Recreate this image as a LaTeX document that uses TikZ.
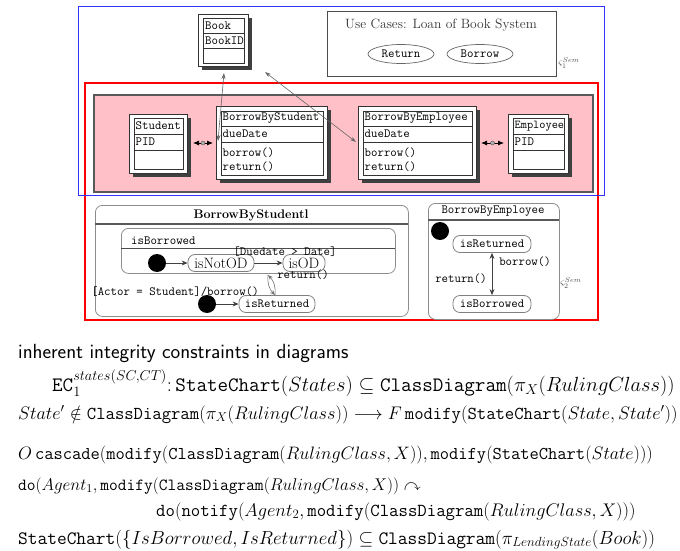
\RequirePackage{fix-cm}
\documentclass[tikz,border=0pt]{standalone}
\usepackage{amssymb}
\usetikzlibrary{arrows.meta,shadows,shapes.geometric}

\definecolor{pinkfill}{RGB}{255,192,200}
\definecolor{frameblue}{RGB}{50,50,255}

\newcommand{\ttsz}[1]{\fontsize{#1}{#1}\selectfont\ttfamily}
\newcommand{\fsz}[1]{\fontsize{#1}{#1}\selectfont}

\begin{document}
\begin{tikzpicture}[x=1pt,y=-1pt,
  clsframe/.style={draw=black!80, line width=0.8pt, fill=white, inner sep=0pt,
    anchor=north west,
    drop shadow={shadow xshift=4pt,shadow yshift=-4pt,fill=black!75,opacity=1}},
  clsline/.style={draw=black!80, line width=0.7pt},
  clstext/.style={anchor=west, inner sep=0pt, font=\ttsz{12.5}},
  pinkbox/.style={draw=black!65, line width=1.5pt, fill=pinkfill, anchor=north west, inner sep=0pt},
  ucframe/.style={draw=black!70, line width=0.9pt, anchor=north west, inner sep=0pt},
  ucase/.style={ellipse, draw=black!60, line width=0.7pt, minimum width=66pt, minimum height=19pt,
    inner sep=0pt, font=\ttsz{12.5}},
  chart/.style={draw=black!45, line width=0.8pt, rounded corners=7pt, anchor=north west, inner sep=0pt},
  stnode/.style={draw=black!50, line width=0.8pt, rounded corners=7pt, minimum height=17pt,
    fill=white, inner sep=1pt},
  initdot/.style={circle, fill=black, minimum size=18pt, inner sep=0pt},
  trans/.style={draw=black!75, line width=0.8pt, -{Stealth[length=6pt,width=5pt]}},
  assoc/.style={draw=black!60, line width=0.6pt,
    {Stealth[length=6pt,width=4pt]}-{Stealth[length=6pt,width=4pt]}},
  agg/.style={draw=black, line width=0.8pt,
    {Latex[length=6pt,width=5pt]}-{Latex[length=6pt,width=5pt]}},
  sttext/.style={inner sep=0pt, font=\ttsz{12.5}},
  formula/.style={anchor=base west, inner sep=0pt}
]
\useasboundingbox (0,0) rectangle (680,551);

% ---------- package of lending classes ----------
\draw[red, line width=1.5pt] (85,83) rectangle (598,320);
\node[pinkbox, minimum width=499pt, minimum height=97pt] (pkg) at (93,94) {};
\draw[frameblue, line width=1pt] (78,7) rectangle (604,195);

% Book
\node[clsframe, minimum width=50pt, minimum height=52pt] (book) at (198,14) {};
\draw[clsline] (203,18) rectangle (244,63) (203,33) -- (244,33) (203,48) -- (244,48);
\node[clstext] (bookname) at (205,25.5) {Book};
\node[clstext] (bookid) at (205,40.5) {BookID};

% Student
\node[clsframe, minimum width=58pt, minimum height=59pt] (student) at (129,114) {};
\draw[clsline] (134,118) rectangle (183,169) (134,134) -- (183,134) (134,150) -- (183,150);
\node[clstext] (stname) at (135.5,126) {Student};
\node[clstext] (stpid) at (135.5,142) {PID};

% BorrowByStudent
\node[clsframe, minimum width=111pt, minimum height=73pt] (bbs) at (216,106) {};
\draw[clsline] (221,111) rectangle (323,175) (221,126) -- (323,126) (221,142) -- (323,142);
\node[clstext] (bbsname) at (222.5,118.5) {BorrowByStudent};
\node[clstext] (bbsdue) at (222.5,134) {dueDate};
\node[clstext] (bbsbor) at (222.5,153) {borrow()};
\node[clstext] (bbsret) at (222.5,167) {return()};

% BorrowByEmployee
\node[clsframe, minimum width=118pt, minimum height=73pt] (bbe) at (358,106) {};
\draw[clsline] (363,111) rectangle (472,175) (363,126) -- (472,126) (363,142) -- (472,142);
\node[clstext] (bbename) at (364.5,118.5) {BorrowByEmployee};
\node[clstext] (bbedue) at (364.5,134) {dueDate};
\node[clstext] (bbebor) at (364.5,153) {borrow()};
\node[clstext] (bberet) at (364.5,167) {return()};

% Employee
\node[clsframe, minimum width=60pt, minimum height=59pt] (emp) at (508,114) {};
\draw[clsline] (513,118) rectangle (564,169) (513,134) -- (564,134) (513,150) -- (564,150);
\node[clstext, font=\ttsz{12}] (empname) at (514.5,126) {Employee};
\node[clstext] (emppid) at (514.5,142) {PID};

% associations to Book
\coordinate (bookfootA) at (224,73);
\coordinate (bbsdock) at (218,141);
\coordinate (bookfootB) at (265,72);
\coordinate (bbedock) at (356,142);
\draw[assoc] (bookfootA) -- (bbsdock);
\draw[assoc] (bookfootB) -- (bbedock);

% aggregations between actors and loans
\coordinate (stdock) at (193,143);
\coordinate (bbsleft) at (213,143);
\coordinate (bberight) at (481,143);
\coordinate (empdock) at (504,143);
\draw[agg] (stdock) -- (bbsleft);
\draw[agg] (bberight) -- (empdock);
\node[circle, draw=black!70, fill=black!30, minimum size=4pt, inner sep=0pt] (aggmid1) at (203,143) {};
\node[circle, draw=black!70, fill=black!30, minimum size=4pt, inner sep=0pt] (aggmid2) at (492.5,143) {};

% ---------- use cases ----------
\node[ucframe, minimum width=229pt, minimum height=65pt] (uc) at (327,11) {};
\node[inner sep=0pt, text=black!80, font=\fsz{13.5}] (uctitle) at (441,25) {Use Cases: Loan of Book System};
\node[ucase] (ucret) at (401,54) {Return};
\node[ucase] (ucbor) at (480,54) {Borrow};
\node[inner sep=0pt, text=black!70, font=\fsz{10}] (sem1) at (569,63) {$\varsigma_1^{Sem}$};

% ---------- state chart: BorrowByStudentl ----------
\node[chart, minimum width=313pt, minimum height=111pt] (sc1) at (95,205) {};
\node[inner sep=0pt, font=\fsz{12.5}\bfseries] (sc1title) at (251,215) {BorrowByStudentl};
\draw[black!65, line width=1.2pt] (95,224) -- (408,224);
\node[chart, minimum width=274pt, minimum height=45pt] (borrowed) at (121,228) {};
\node[sttext, anchor=west] (borrowedlbl) at (131,241) {isBorrowed};
\draw[black!70, line width=1pt] (121,248) -- (395,248);

\node[initdot] (init1) at (157,263) {};
\node[stnode, minimum width=66pt, font=\fsz{15}] (notod) at (221,263) {isNotOD};
\node[stnode, minimum width=42pt, font=\fsz{15}] (od) at (304,263) {isOD};
\draw[trans] (init1) -- (notod);
\draw[trans] (notod) -- (od);
\node[sttext] (guard) at (285,252) {[Duedate > Date]};
\node[sttext] (retlbl) at (303,275) {return()};

\node[initdot] (init2) at (207,304) {};
\node[stnode, minimum width=76pt, font=\ttsz{12.5}] (isret1) at (277,304) {isReturned};
\draw[trans] (init2) -- (isret1);
\node[sttext] (actorlbl) at (175,292) {[Actor = Student]/borrow()};

\coordinate (lensTop) at (268,275);
\coordinate (lensBot) at (275,295);
\draw[draw=black!55, line width=0.6pt, -{Stealth[length=5pt,width=4pt]}] (lensBot) to[bend right=25] (lensTop);
\draw[draw=black!55, line width=0.6pt, -{Stealth[length=5pt,width=4pt]}] (lensTop) to[bend right=25] (lensBot);

% ---------- state chart: BorrowByEmployee ----------
\node[chart, minimum width=131pt, minimum height=116pt] (sc2) at (428,203) {};
\node[sttext] (sc2title) at (493,211) {BorrowByEmployee};
\draw[black!65, line width=1.2pt] (428,220) -- (559,220);
\node[stnode, minimum width=78pt, font=\ttsz{12.5}] (isret2) at (492,244) {isReturned};
\node[stnode, minimum width=78pt, font=\ttsz{12.5}] (isbor2) at (492,304) {isBorrowed};
\node[initdot] (init3) at (440,231) {};
\draw[draw=black!75, line width=0.8pt, {Stealth[length=6pt,width=5pt]}-{Stealth[length=6pt,width=5pt]}] (isret2) -- (isbor2);
\node[sttext] (borlbl) at (525,262) {borrow()};
\node[sttext] (retlbl2) at (461,279) {return()};
\node[inner sep=0pt, text=black!70, font=\fsz{10}] (sem2) at (571,283) {$\varsigma_2^{Sem}$};

% ---------- integrity constraints ----------
\node[formula, font=\fsz{20.5}\sffamily] (c0) at (18,358) {inherent integrity constraints in diagrams};
\node[formula, font=\fsz{20.5}] (c1) at (52,391) {$\mathtt{EC}_1^{states(SC,CT)}\colon \mathtt{StateChart}(States)\subseteq\mathtt{ClassDiagram}(\pi_X(RulingClass))$};
\node[formula, font=\fsz{18.2}] (c2) at (18,419) {$State'\notin\mathtt{ClassDiagram}(\pi_X(RulingClass))\longrightarrow F\,\mathtt{modify}(\mathtt{StateChart}(State,State'))$};
\node[formula, font=\fsz{18}] (c3) at (18,459) {$O\,\mathtt{cascade}(\mathtt{modify}(\mathtt{ClassDiagram}(RulingClass,X)),\mathtt{modify}(\mathtt{StateChart}(State)))$};
\node[formula, font=\fsz{17}] (c4) at (18,490) {$\mathtt{do}(Agent_1,\mathtt{modify}(\mathtt{ClassDiagram}(RulingClass,X))\curvearrowright$};
\node[formula, font=\fsz{18.3}] (c5) at (156,516) {$\mathtt{do}(\mathtt{notify}(Agent_2,\mathtt{modify}(\mathtt{ClassDiagram}(RulingClass,X)))$};
\node[formula, font=\fsz{18.9}] (c6) at (18,544) {$\mathtt{StateChart}(\{IsBorrowed,IsReturned\})\subseteq\mathtt{ClassDiagram}(\pi_{LendingState}(Book))$};
\end{tikzpicture}
\end{document}
